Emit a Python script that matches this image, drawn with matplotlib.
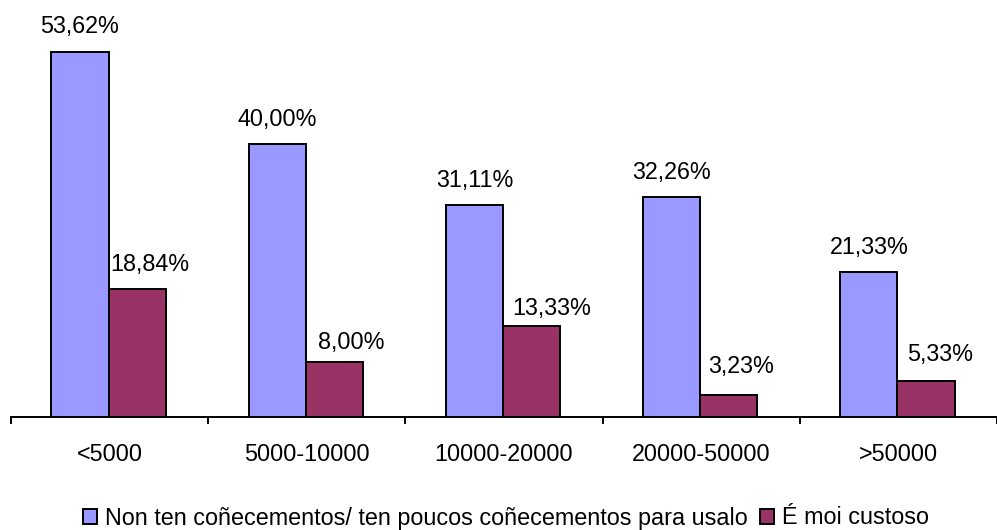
import numpy as np
import matplotlib
matplotlib.use('Agg')
import matplotlib.pyplot as plt
from matplotlib.ticker import FixedLocator, NullFormatter

plt.rcParams['font.family'] = ['Liberation Sans', 'DejaVu Sans']

categories = ['<5000', '5000-10000', '10000-20000', '20000-50000', '>50000']
non_ten = [53.62, 40.00, 31.11, 32.26, 21.33]
custoso = [18.84, 8.00, 13.33, 3.23, 5.33]
series_names = ['Non ten coñecementos/ ten poucos coñecementos para usalo',
                'É moi custoso']

blue = '#9999FF'
maroon = '#993366'
fs = 16.8
px = 72 / 100  # points per pixel

# label placement (pixels) as in the original, where the maroon labels were nudged
blue_shift = [(0, 19), (0, 18), (0, 18), (0, 18), (0, 18)]
maroon_shift = [(13, 17.5), (17, 13.5), (20, 11), (12, 21.5), (14, 19.5)]

fig = plt.figure(figsize=(9.97, 5.30), dpi=100)
ax = fig.add_axes([11 / 997, 113 / 530, 1 - 11 / 997, 417 / 530])

x = np.arange(len(categories))
w = 0.29
b1 = ax.bar(x - 0.15, non_ten, w, color=blue, edgecolor='black', linewidth=1.4, label=series_names[0])
b2 = ax.bar(x + 0.14, custoso, w, color=maroon, edgecolor='black', linewidth=1.4, label=series_names[1])

for bars, vals, shifts in ((b1, non_ten, blue_shift), (b2, custoso, maroon_shift)):
    for r, v, (dx, dy) in zip(bars, vals, shifts):
        ax.annotate(f'{v:.2f}'.replace('.', ',') + '%',
                    (r.get_x() + r.get_width() / 2, v),
                    xytext=(dx * px, dy * px), textcoords='offset points',
                    ha='center', va='baseline', fontsize=fs)

ax.set_xlim(-0.5, len(categories) - 0.5)
ax.set_ylim(0, 61.2)

for s in ('left', 'right', 'top'):
    ax.spines[s].set_visible(False)
ax.spines['bottom'].set_linewidth(1.4)
ax.set_yticks([])

ax.xaxis.set_major_locator(FixedLocator(np.arange(-0.5, len(categories), 1.0)))
ax.xaxis.set_major_formatter(NullFormatter())
ax.set_xticks(x, minor=True)
ax.set_xticklabels(categories, minor=True, fontsize=fs)
ax.tick_params(axis='x', which='major', direction='out', length=5, width=1.4)
ax.tick_params(axis='x', which='minor', length=0, pad=19)

fig.legend(loc='center', bbox_to_anchor=(506 / 997, 12 / 530), ncol=2, frameon=False,
           fontsize=fs, handlelength=0.6, handleheight=0.6, handletextpad=0.35,
           columnspacing=0.5, borderaxespad=0)

fig.savefig('out.png', dpi=100)
